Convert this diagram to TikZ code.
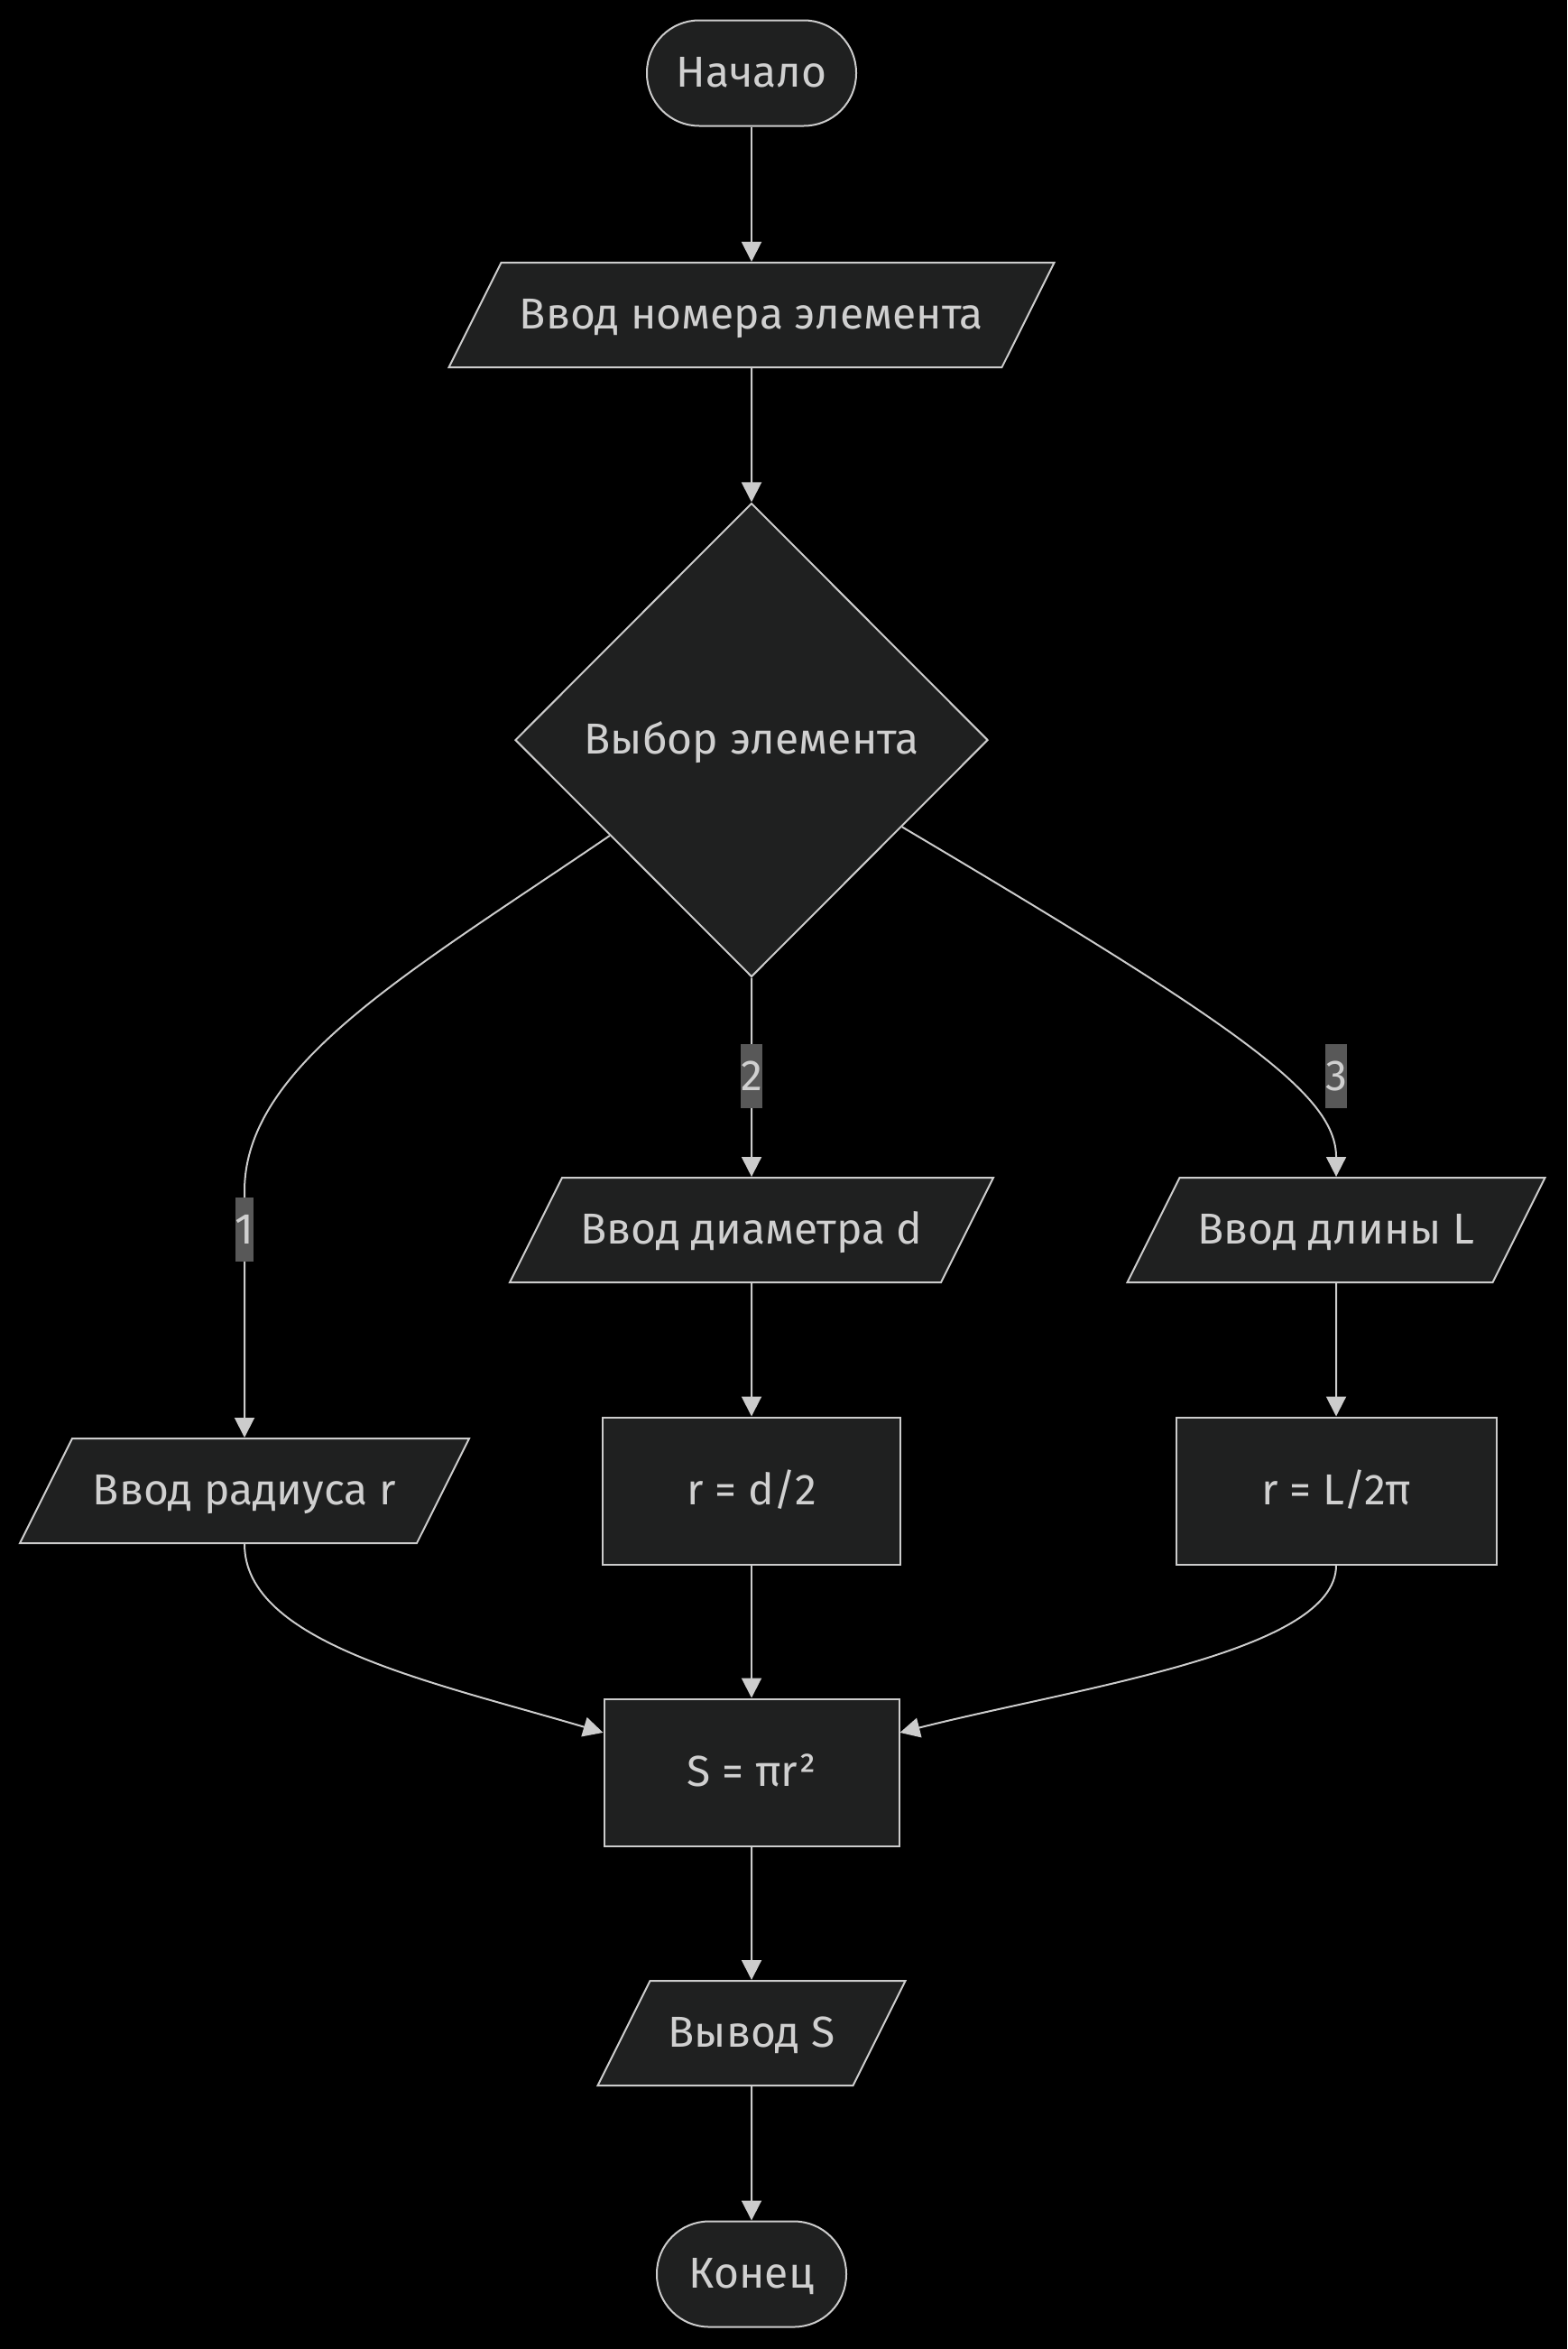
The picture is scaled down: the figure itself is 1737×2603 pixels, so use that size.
\documentclass[tikz,border=0pt]{standalone}
\usepackage{xcolor}
\definecolor{FlowBlack}{HTML}{000000}
\definecolor{FlowNode}{HTML}{1F2020}
\definecolor{FlowLine}{HTML}{CCCCCC}
\definecolor{FlowText}{HTML}{D0D0D0}
\definecolor{FlowLabel}{HTML}{585858}
\usepackage{fontspec}
\setmainfont{Fira Sans}
\usepackage{tikz}
\usetikzlibrary{shapes.geometric, arrows.meta}
\tikzset{
    % Shared look of all blocks
    block/.style={
        draw=FlowLine,
        fill=FlowNode,
        line width=1pt,
        text=FlowText,
        inner sep=0pt,
        text height=19.5pt,
        text depth=4.5pt,
        align=center,
        font=\fontsize{24pt}{29pt}\selectfont
    },
    terminal/.style={
        block,
        rectangle,
        rounded corners=29pt,
        minimum height=58.5pt
    },
    io box/.style={
        block,
        trapezium,
        trapezium left angle=63.43,
        trapezium right angle=116.57,
        trapezium stretches body=true,
        inner ysep=17pt
    },
    process/.style={
        block,
        rectangle,
        minimum height=81.5pt
    },
    decision/.style={
        block,
        diamond,
        aspect=1,
        minimum width=262pt,
        minimum height=262.5pt
    },
    edge label/.style={
        fill=FlowLabel,
        text=FlowText,
        inner xsep=0pt,
        inner ysep=0pt,
        minimum height=35.5pt,
        font=\fontsize{24pt}{29pt}\selectfont
    },
    arrow style/.style={
        -{Triangle[length=11pt,width=11pt]},
        line width=1pt,
        FlowLine
    }
}

\begin{document}
\begin{tikzpicture}[x=0.5pt, y=-0.5pt]
        \fill[FlowBlack] (0,0) rectangle (1737,2603);
        \useasboundingbox (0,0) rectangle (1737,2603);

        % Start
        \node[terminal, minimum width=116pt] (start) at (833,81) {Начало};

        % Input
        \node[io box, minimum width=335.5pt] (inNum) at (833,349) {Ввод номера элемента};

        % Choice
        \node[decision] (dec) at (833,820) {Выбор элемента};

        % Three branches
        \node[io box, minimum width=249pt] (inRad) at (271,1652) {Ввод радиуса r};
        \node[io box, minimum width=268pt] (inDiam) at (833,1363) {Ввод диаметра d};
        \node[io box, minimum width=231.5pt] (inLen) at (1481,1363) {Ввод длины L};
        \node[process, minimum width=165pt] (rDiam) at (833,1652) {r = d/2};
        \node[process, minimum width=177.5pt] (rLen) at (1481,1652) {r = L/2π};

        % Area and output
        \node[process, minimum width=163.5pt] (area) at (833,1964) {S = πr²};
        \node[io box, minimum width=170.5pt] (output) at (833,2253) {Вывод S};
        \node[terminal, minimum width=105pt] (finish) at (833,2520) {Конец};

        \coordinate (bend1) at (271,1320);

        % Connectors
        \draw[arrow style] (start) -- (inNum);
        \draw[arrow style] (inNum) -- (dec);
        \draw[arrow style] (dec.214) .. controls +(-220,150) and +(0,-140) .. (bend1) -- (inRad);
        \draw[arrow style] (dec) -- (inDiam);
        \draw[arrow style] (dec.330) .. controls +(380,225) and +(0,-90) .. (inLen.north);
        \draw[arrow style] (inDiam) -- (rDiam);
        \draw[arrow style] (inLen) -- (rLen);
        \draw[arrow style] (inRad.south) .. controls +(0,110) and +(-189,-56) .. (area.165);
        \draw[arrow style] (rDiam) -- (area);
        \draw[arrow style] (rLen.south) .. controls +(0,96) and +(202,-51) .. (area.15);
        \draw[arrow style] (area) -- (output);
        \draw[arrow style] (output) -- (finish);

        % Branch labels
        \node[edge label] (lab1) at (271,1362) {1};
        \node[edge label] (lab2) at (833,1192) {2};
        \node[edge label] (lab3) at (1481,1192) {3};
    \end{tikzpicture}
\end{document}
